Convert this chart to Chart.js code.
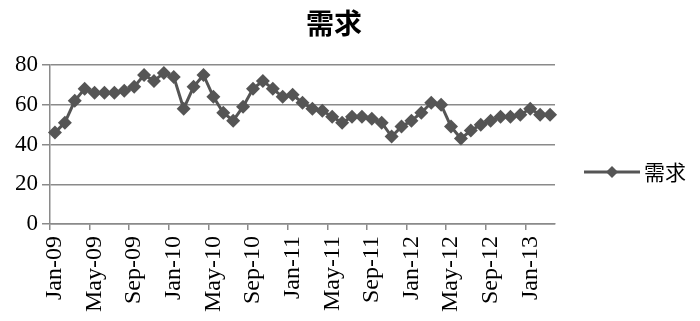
<!DOCTYPE html>
<html>
<head>
<meta charset="utf-8">
<script src="https://cdn.jsdelivr.net/npm/chart.js@4/dist/chart.umd.min.js"></script>
<style>
    html, body { margin: 0; padding: 0; background: #fff; }
    #wrap { width: 700px; height: 321px; position: relative; }
</style>
</head>
<body>
<div id="wrap"><canvas id="demandChart"></canvas></div>
<script>
// ========================================
// データ
// ========================================

const months = [
    'Jan-09', 'Feb-09', 'Mar-09', 'Apr-09', 'May-09', 'Jun-09', 'Jul-09', 'Aug-09', 'Sep-09', 'Oct-09', 'Nov-09', 'Dec-09',
    'Jan-10', 'Feb-10', 'Mar-10', 'Apr-10', 'May-10', 'Jun-10', 'Jul-10', 'Aug-10', 'Sep-10', 'Oct-10', 'Nov-10', 'Dec-10',
    'Jan-11', 'Feb-11', 'Mar-11', 'Apr-11', 'May-11', 'Jun-11', 'Jul-11', 'Aug-11', 'Sep-11', 'Oct-11', 'Nov-11', 'Dec-11',
    'Jan-12', 'Feb-12', 'Mar-12', 'Apr-12', 'May-12', 'Jun-12', 'Jul-12', 'Aug-12', 'Sep-12', 'Oct-12', 'Nov-12', 'Dec-12',
    'Jan-13', 'Feb-13', 'Mar-13'
];

const demand = [
    46, 51, 62, 68, 66, 66, 66, 67, 69, 75, 72, 76,
    74, 58, 69, 75, 64, 56, 52, 59, 68, 72, 68, 64,
    65, 61, 58, 57, 54, 51, 54, 54, 53, 51, 44, 49,
    52, 56, 61, 60, 49, 43, 47, 50, 52, 54, 54, 55,
    58, 55, 55
];

const yTicks = [0, 20, 40, 60, 80];
const seriesName = '需求';
const titleText = '需求';

const lineColor = '#555555';
const axisColor = '#8a8a8a';
const serif = '"Liberation Serif", "Times New Roman", serif';
const cjk = '"Noto Sans CJK SC", sans-serif';

// ========================================
// タイトルと凡例（線＋菱形マーカー）
// ========================================

const titleAndLegend = {
    id: 'titleAndLegend',
    afterDraw(chart) {
        const ctx = chart.ctx;
        ctx.save();

        // タイトル
        ctx.fillStyle = '#000';
        ctx.font = 'bold 28px ' + cjk;
        ctx.textAlign = 'center';
        ctx.textBaseline = 'middle';
        ctx.fillText(titleText, 334, 23);

        // 凡例
        const y = 172;
        ctx.strokeStyle = lineColor;
        ctx.lineWidth = 3;
        ctx.beginPath();
        ctx.moveTo(584, y);
        ctx.lineTo(640, y);
        ctx.stroke();
        ctx.fillStyle = lineColor;
        ctx.beginPath();
        ctx.moveTo(612, y - 6);
        ctx.lineTo(618, y);
        ctx.lineTo(612, y + 6);
        ctx.lineTo(606, y);
        ctx.closePath();
        ctx.fill();
        ctx.fillStyle = '#000';
        ctx.font = '21px ' + cjk;
        ctx.textAlign = 'left';
        ctx.fillText(seriesName, 644, y);
        ctx.restore();
    }
};

// ========================================
// チャート
// ========================================

new Chart(document.getElementById('demandChart'), {
    type: 'line',
    data: {
        labels: months,
        datasets: [{
            label: seriesName,
            data: demand,
            borderColor: lineColor,
            backgroundColor: lineColor,
            borderWidth: 3,
            tension: 0,
            pointStyle: 'rectRot',
            pointRadius: 7,
            pointBorderWidth: 0,
            pointBackgroundColor: lineColor
        }]
    },
    options: {
        responsive: true,
        maintainAspectRatio: false,
        animation: false,
        layout: {
            padding: { left: 11, right: 145, top: 65, bottom: 3 }
        },
        plugins: {
            legend: { display: false },
            tooltip: { enabled: false },
            title: { display: false }
        },
        scales: {
            x: {
                offset: true,
                grid: {
                    offset: true,
                    drawOnChartArea: false,
                    drawTicks: true,
                    tickLength: 6,
                    lineWidth: 1.5,
                    color: function(context) {
                        return context.index % 4 === 0 ? axisColor : 'rgba(0,0,0,0)';
                    }
                },
                border: { display: true, color: axisColor, width: 1.5 },
                ticks: {
                    autoSkip: false,
                    minRotation: 90,
                    maxRotation: 90,
                    padding: 6,
                    color: '#000',
                    font: { family: serif, size: 24 },
                    callback: function(value, index) {
                        return index % 4 === 0 ? months[index] : '';
                    }
                }
            },
            y: {
                min: 0,
                max: 80,
                afterBuildTicks: function(axis) {
                    axis.ticks = yTicks.map(v => ({ value: v }));
                },
                grid: {
                    color: axisColor,
                    lineWidth: 1.5,
                    drawTicks: true,
                    tickLength: 8
                },
                border: { display: true, color: axisColor, width: 1.5 },
                ticks: {
                    padding: 4,
                    color: '#000',
                    font: { family: serif, size: 23 }
                }
            }
        }
    },
    plugins: [titleAndLegend]
});
</script>
</body>
</html>
